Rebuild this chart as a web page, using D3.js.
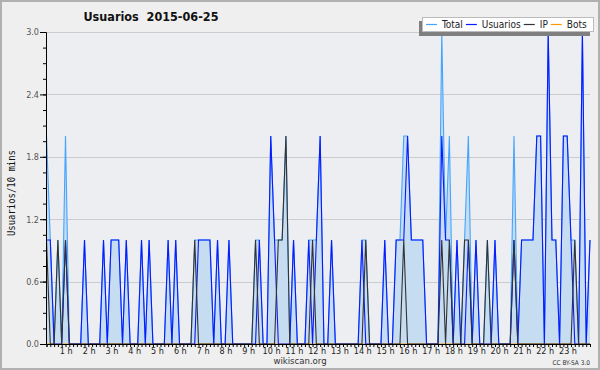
<!DOCTYPE html>
<html>
<head>
<meta charset="utf-8">
<script src="https://cdn.jsdelivr.net/npm/d3@7"></script>
<style>
  body { margin: 0; background: #fff; }
  svg { display: block; font-family: "DejaVu Sans Condensed", "DejaVu Sans", sans-serif; font-stretch: condensed; }
</style>
</head>
<body>
<div id="chart"></div>
<script>
// 144 slots of 10 minutes, one row = 4 hours
const totalValues = [
  2,1,0,1,0,2,0,0,0,0,1,0, 0,0,0,1,0,1,1,1,0,1,0,0,
  0,1,0,1,0,0,0,0,1,0,1,0, 0,0,0,1,1,1,1,1,0,1,0,0,
  1,0,0,0,0,0,0,1,1,0,0,2, 1,1,1,2,0,1,0,0,0,1,1,1,
  2,0,0,1,0,0,0,0,0,0,0,1, 1,0,0,0,0,1,0,0,1,1,2,2,
  1,1,1,1,0,0,0,0,3,1,2,0, 1,0,1,2,0,1,0,0,1,0,1,0,
  0,0,0,2,0,1,1,1,1,2,2,0, 3,1,1,0,2,2,1,1,0,3,0,1
];
const usuariosValues = [
  1,1,0,0,0,1,0,0,0,0,1,0, 0,0,0,1,0,1,1,1,0,1,0,0,
  0,1,0,1,0,0,0,0,1,0,1,0, 0,0,0,0,1,1,1,1,0,1,0,0,
  1,0,0,0,0,0,0,0,1,0,0,2, 1,0,0,0,0,1,0,0,0,1,0,1,
  2,0,0,1,0,0,0,0,0,0,0,1, 0,0,0,0,0,1,0,0,1,1,1,2,
  1,1,1,1,0,0,0,0,2,1,1,0, 1,0,0,1,0,1,0,0,0,0,1,0,
  0,0,0,1,0,1,1,1,1,2,2,0, 3,1,1,0,2,2,1,0,0,3,0,1
];
const ipValues = [
  1,0,0,1,0,1,0,0,0,0,0,0, 0,0,0,0,0,0,0,0,0,0,0,0,
  0,0,0,0,0,0,0,0,0,0,0,0, 0,0,0,1,0,0,0,0,0,0,0,0,
  0,0,0,0,0,0,0,1,0,0,0,0, 0,1,1,2,0,0,0,0,0,0,1,0,
  0,0,0,0,0,0,0,0,0,0,0,0, 1,0,0,0,0,0,0,0,0,0,1,0,
  0,0,0,0,0,0,0,0,1,0,1,0, 0,0,1,1,0,0,0,0,1,0,0,0,
  0,0,0,1,0,0,0,0,0,0,0,0, 0,0,0,0,0,0,0,1,0,0,0,0
];
const botsValues = [
  0,0,0,0,0,0,0,0,0,0,0,0, 0,0,0,0,0,0,0,0,0,0,0,0,
  0,0,0,0,0,0,0,0,0,0,0,0, 0,0,0,0,0,0,0,0,0,0,0,0,
  0,0,0,0,0,0,0,0,0,0,0,0, 0,0,0,0,0,0,0,0,0,0,0,0,
  0,0,0,0,0,0,0,0,0,0,0,0, 0,0,0,0,0,0,0,0,0,0,0,0,
  0,0,0,0,0,0,0,0,0,0,0,0, 0,0,0,0,0,0,0,0,0,0,0,0,
  0,0,0,0,0,0,0,0,0,0,0,0, 0,0,0,0,0,0,0,0,0,0,0,0
];
const yTicks = [0, 0.6, 1.2, 1.8, 2.4, 3.0];
const hourLabels = d3.range(1, 24).map(h => `${h} h`);

const W = 600, H = 370;
const margin = { top: 32, right: 10, bottom: 26, left: 46 };
const width = W - margin.left - margin.right;
const height = H - margin.top - margin.bottom;

const svg = d3.select("#chart").append("svg")
  .attr("width", W).attr("height", H);

// outer frame
svg.append("rect").attr("x", 0).attr("y", 0).attr("width", W).attr("height", H)
  .attr("fill", "#efefef");
svg.append("rect").attr("x", 1).attr("y", 1).attr("width", W - 2).attr("height", H - 2)
  .attr("fill", "none").attr("stroke", "#b0b0b0").attr("stroke-width", 2);

const g = svg.append("g").attr("transform", `translate(${margin.left},${margin.top})`);

g.append("rect").attr("width", width).attr("height", height).attr("fill", "#eceef1");

const x = d3.scaleLinear().domain([0, 143]).range([0.5, width]);
const y = d3.scaleLinear().domain([0, 3]).range([height, 0]);

// grid
g.selectAll(".grid").data(yTicks.slice(1)).enter().append("line")
  .attr("x1", 0).attr("x2", width)
  .attr("y1", d => Math.round(y(d)) + 0.5).attr("y2", d => Math.round(y(d)) + 0.5)
  .attr("stroke", "#cccccc");

// total area
const idx = d3.range(144);
g.append("path").datum(idx)
  .attr("fill", "#c6dcf0")
  .attr("d", d3.area().x(i => x(i)).y0(height).y1(i => y(totalValues[i])));

const line = vals => d3.line().x(i => x(i)).y(i => y(vals[i]));
g.append("path").datum(idx).attr("fill", "none").attr("stroke", "#44a4ff").attr("stroke-width", 1.1)
  .attr("d", line(totalValues));
g.append("path").datum(idx).attr("fill", "none").attr("stroke", "#ff9900").attr("stroke-width", 1.1)
  .attr("d", line(botsValues));
g.append("path").datum(idx).attr("fill", "none").attr("stroke", "#0a1aff").attr("stroke-width", 1.1)
  .attr("d", line(usuariosValues));
g.append("path").datum(idx).attr("fill", "none").attr("stroke", "#333333").attr("stroke-width", 1.1)
  .attr("d", line(ipValues));

// y axis
const yAxis = g.append("g")
  .call(d3.axisLeft(y).tickValues(yTicks).tickFormat(d3.format(".1f")).tickSize(6).tickPadding(1));
yAxis.select(".domain").attr("stroke", "#000");
yAxis.selectAll("text").attr("font-size", 9).attr("fill", "#555")
  .attr("font-family", "DejaVu Sans Condensed, DejaVu Sans");
g.append("g")
  .call(d3.axisLeft(y).tickValues(d3.range(0, 3.01, 0.15)).tickFormat("").tickSize(3))
  .select(".domain").remove();

// x axis
const xAxis = g.append("g").attr("transform", `translate(0,${height})`)
  .call(d3.axisBottom(x).tickValues(d3.range(0, 144)).tickFormat("").tickSize(3));
xAxis.select(".domain").attr("stroke", "#000");
g.append("g").attr("transform", `translate(0,${height})`)
  .selectAll("text").data(hourLabels).enter().append("text")
  .attr("x", (d, i) => x((i + 1) * 6) - 3)
  .attr("y", 10)
  .attr("text-anchor", "middle")
  .attr("font-size", 9).attr("fill", "#222")
  .text(d => d);

// title
svg.append("text").attr("x", 151).attr("y", 21).attr("text-anchor", "middle")
  .attr("font-size", 12.5).attr("font-weight", "bold").attr("fill", "#111")
  .attr("xml:space", "preserve")
  .text("Usuarios  2015-06-25");

// y label
svg.append("text")
  .attr("transform", `translate(15,${margin.top + 161}) rotate(-90)`)
  .attr("text-anchor", "middle").attr("font-size", 10)
  .attr("font-family", "DejaVu Sans Mono").attr("fill", "#111")
  .attr("textLength", 86).attr("lengthAdjust", "spacingAndGlyphs")
  .text("Usuarios/10 mins");

// footer
svg.append("text").attr("x", 300).attr("y", 364).attr("text-anchor", "middle")
  .attr("font-size", 9.5).attr("fill", "#333").text("wikiscan.org");
svg.append("text").attr("x", 590).attr("y", 364.5).attr("text-anchor", "end")
  .attr("font-size", 6.5).attr("fill", "#333").text("CC BY-SA 3.0");

// legend
const legendItems = [
  { name: "Total", color: "#44a4ff" },
  { name: "Usuarios", color: "#0a1aff" },
  { name: "IP", color: "#333333" },
  { name: "Bots", color: "#ff9900" }
];
const lg = svg.append("g").attr("transform", "translate(422,17)");
lg.append("rect").attr("x", -3).attr("y", 4).attr("width", 171).attr("height", 15).attr("fill", "#7f7f7f");
lg.append("rect").attr("x", 0.5).attr("y", 0.5).attr("width", 171).attr("height", 14)
  .attr("fill", "#fff").attr("stroke", "#bbb");
let lx = 4;
legendItems.forEach(d => {
  lg.append("line").attr("x1", lx).attr("x2", lx + 11).attr("y1", 7.5).attr("y2", 7.5)
    .attr("stroke", d.color).attr("stroke-width", 1.2);
  const t = lg.append("text").attr("x", lx + 16).attr("y", 11)
    .attr("font-size", 10).attr("fill", "#222").text(d.name);
  lx += 16 + t.node().getComputedTextLength() + 3;
});
</script>
</body>
</html>
